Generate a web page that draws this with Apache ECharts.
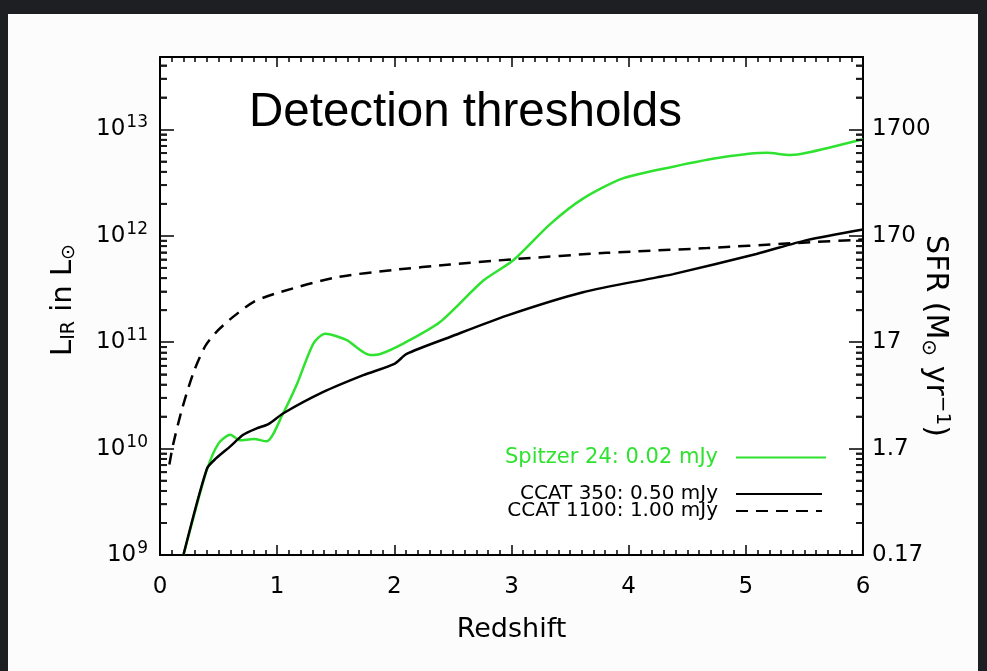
<!DOCTYPE html>
<html>
<head>
<meta charset="utf-8">
<script src="https://cdn.jsdelivr.net/npm/echarts@6/dist/echarts.min.js"></script>
<style>
  html, body { margin: 0; padding: 0; background: #1e1f22; }
  #frame { position: absolute; left: 8px; top: 14px; width: 970px; height: 657px; background: #fcfcfc; }
  #chart { position: absolute; left: 0; top: 0; width: 987px; height: 671px; }
</style>
</head>
<body>
<div id="frame"></div>
<div id="chart"></div>
<script>
// ---- data ----
const redshiftSpitzer = [0.2, 0.28, 0.4, 0.5, 0.6, 0.68, 0.8, 0.91, 1.05, 1.17, 1.31, 1.41, 1.59, 1.79, 1.88, 2.08, 2.39, 2.76, 3.015, 3.33, 3.61, 3.95, 4.38, 4.81, 5.18, 5.38, 5.52, 6.0];
const lirSpitzer = [1.0e9, 2.14e9, 6.31e9, 1.12e10, 1.35e10, 1.20e10, 1.23e10, 1.17e10, 2.14e10, 4.07e10, 9.77e10, 1.20e11, 1.05e11, 7.59e10, 7.76e10, 9.77e10, 1.55e11, 3.80e11, 5.89e11, 1.29e12, 2.24e12, 3.47e12, 4.47e12, 5.50e12, 6.03e12, 5.75e12, 6.03e12, 8.1e12];

const redshiftCcat350 = [0.2, 0.4, 0.48, 0.6, 0.71, 0.825, 0.925, 1.05, 1.39, 1.735, 2.005, 2.105, 2.475, 2.96, 3.61, 4.24, 4.38, 5.09, 5.52, 6.0];
const lirCcat350 = [1.0e9, 6.46e9, 8.13e9, 1.05e10, 1.35e10, 1.55e10, 1.70e10, 2.14e10, 3.39e10, 4.90e10, 6.31e10, 7.76e10, 1.12e11, 1.78e11, 2.95e11, 4.07e11, 4.37e11, 6.76e11, 9.12e11, 1.15e12];

const redshiftCcat1100 = [0.08, 0.11, 0.185, 0.284, 0.384, 0.484, 0.626, 0.80, 1.02, 1.5, 2.0, 2.475, 3.015, 3.81, 4.67, 5.38, 6.0];
const lirCcat1100 = [7.08e9, 1.07e10, 2.29e10, 5.13e10, 9.12e10, 1.26e11, 1.74e11, 2.40e11, 2.95e11, 4.07e11, 4.79e11, 5.37e11, 6.03e11, 6.92e11, 7.67e11, 8.51e11, 9.23e11];

const seriesNames = ['Spitzer 24: 0.02 mJy', 'CCAT 350: 0.50 mJy', 'CCAT 1100: 1.00 mJy'];
const xTickLabels = ['0', '1', '2', '3', '4', '5', '6'];
const lirExponents = ['9', '10', '11', '12', '13'];
const sfrTickLabels = ['0.17', '1.7', '17', '170', '1700'];
const minorMultipliers = [2, 3, 4, 5, 6, 7, 8, 9];

// ---- layout / style ----
const X_MIN = 0, X_MAX = 6;
const Y_MIN = 1e9, Y_MAX = 4.8e13;
const MINOR_TICK_DX = 0.06;           // minor tick length expressed in redshift units (~7 px)
const GREEN = '#2fe22f';
const FONT = 'DejaVu Sans';

function zip(xs, ys) { return xs.map((x, i) => [x, ys[i]]); }
function expIndex(v) {
  const l = Math.log10(v), e = Math.round(l);
  if (Math.abs(l - e) > 1e-6) return -1;
  return e - 9;
}

// log-distributed minor tick values (2..9 x each decade) for the vertical axes
const minorVals = [];
for (let d = 9; d <= 13; d++) {
  minorMultipliers.forEach(m => {
    const v = m * Math.pow(10, d);
    if (v < Y_MAX) minorVals.push(v);
  });
}
const minorTickLines = [];
minorVals.forEach(v => {
  minorTickLines.push([{ coord: [X_MIN, v] }, { coord: [X_MIN + MINOR_TICK_DX, v] }]);
  minorTickLines.push([{ coord: [X_MAX - MINOR_TICK_DX, v] }, { coord: [X_MAX, v] }]);
});

const chart = echarts.init(document.getElementById('chart'), null, { renderer: 'canvas' });

const axisCommon = {
  axisLine: { show: true, onZero: false, lineStyle: { color: '#000', width: 2 } },
  splitLine: { show: false }
};
const noSymbolLegendItem = { opacity: 0, borderWidth: 0 };

const option = {
  backgroundColor: 'transparent',
  animation: false,
  title: {
    text: 'Detection thresholds',
    left: 244, top: 84,
    textStyle: { fontFamily: 'Liberation Sans', fontSize: 47.5, fontWeight: 'normal', color: '#000' }
  },
  grid: { left: 160, right: 124, top: 57, bottom: 116, containLabel: false, backgroundColor: '#fff', show: true, borderWidth: 0 },
  legend: [
    {
      data: [{ name: seriesNames[0], textStyle: { color: GREEN } }],
      orient: 'vertical', align: 'right', padding: 0,
      right: 160, top: 447,
      itemWidth: 90, itemHeight: 14, itemGap: 0,
      itemStyle: noSymbolLegendItem,
      textStyle: { fontFamily: FONT, fontSize: 21, color: GREEN, padding: [0, 13, 0, 0] },
      selectedMode: false
    },
    {
      data: [seriesNames[1], seriesNames[2]],
      orient: 'vertical', align: 'right', padding: 0,
      right: 164, top: 484,
      itemWidth: 86, itemHeight: 14, itemGap: -3,
      itemStyle: noSymbolLegendItem,
      textStyle: { fontFamily: FONT, fontSize: 20, color: '#000', padding: [0, 13, 0, 0] },
      selectedMode: false
    }
  ],
  xAxis: [
    Object.assign({}, axisCommon, {
      type: 'value', position: 'bottom', min: X_MIN, max: X_MAX, interval: 1,
      name: 'Redshift', nameLocation: 'middle', nameGap: 61,
      nameTextStyle: { fontFamily: FONT, fontSize: 27, color: '#000' },
      axisTick: { show: true, inside: true, length: 10, lineStyle: { color: '#000', width: 1.5 } },
      minorTick: { show: true, splitNumber: 10, length: 5, lineStyle: { color: '#000', width: 1.5 } },
      axisLabel: { margin: 21, fontFamily: FONT, fontSize: 23, color: '#000',
        formatter: v => xTickLabels[Math.round(v)] }
    }),
    Object.assign({}, axisCommon, {
      type: 'value', position: 'top', min: X_MIN, max: X_MAX, interval: 1,
      axisTick: { show: true, inside: true, length: 10, lineStyle: { color: '#000', width: 1.5 } },
      minorTick: { show: true, splitNumber: 10, length: 5, lineStyle: { color: '#000', width: 1.5 } },
      axisLabel: { show: false }
    })
  ],
  yAxis: [
    Object.assign({}, axisCommon, {
      type: 'log', logBase: 10, position: 'left', min: Y_MIN, max: Y_MAX,
      name: 'L{sub|IR} in L{sub|\u2299}', nameLocation: 'middle', nameGap: 81, nameRotate: 90,
      nameTextStyle: { fontFamily: FONT, fontSize: 29, color: '#000', padding: [0, 0, 0, 12],
        rich: { sub: { fontFamily: FONT, fontSize: 19, color: '#000', padding: [12, 0, 0, 0] } } },
      axisTick: { show: true, inside: true, length: 14, lineStyle: { color: '#000', width: 1.5 } },
      axisLabel: { margin: 12, color: '#000',
        formatter: v => { const i = expIndex(v); return i < 0 ? '' : '{b|10}{s|' + lirExponents[i] + '}'; },
        rich: {
          b: { fontFamily: FONT, fontSize: 23, color: '#000' },
          s: { fontFamily: FONT, fontSize: 17, color: '#000', padding: [0, 0, 13, 1] }
        } }
    }),
    Object.assign({}, axisCommon, {
      type: 'log', logBase: 10, position: 'right', min: Y_MIN, max: Y_MAX,
      name: 'SFR (M{sub|\u2299} yr{sup|\u22121})', nameLocation: 'middle', nameGap: 54, nameRotate: -90,
      nameMoveOverlap: false,
      nameTextStyle: { fontFamily: FONT, fontSize: 30, color: '#000', padding: [0, 0, 0, 60],
        rich: {
          sub: { fontFamily: FONT, fontSize: 20, color: '#000', padding: [12, 0, 0, 0] },
          sup: { fontFamily: FONT, fontSize: 20, color: '#000', padding: [0, 0, 15, 0] }
        } },
      axisTick: { show: true, inside: true, length: 14, lineStyle: { color: '#000', width: 1.5 } },
      axisLabel: { margin: 9, fontFamily: FONT, fontSize: 23, color: '#000',
        formatter: v => { const i = expIndex(v); return i < 0 ? '' : sfrTickLabels[i]; } }
    })
  ],
  series: [
    {
      name: seriesNames[0], type: 'line', xAxisIndex: 0, yAxisIndex: 0,
      data: zip(redshiftSpitzer, lirSpitzer),
      symbol: 'none', smooth: 0.25,
      lineStyle: { color: GREEN, width: 2.5 }, itemStyle: { color: GREEN }, z: 2
    },
    {
      name: seriesNames[1], type: 'line', xAxisIndex: 0, yAxisIndex: 0,
      data: zip(redshiftCcat350, lirCcat350),
      symbol: 'none', smooth: 0.25,
      lineStyle: { color: '#000', width: 2.5 }, itemStyle: { color: '#000' }, z: 3,
      markLine: {
        silent: true, symbol: 'none', animation: false,
        label: { show: false },
        lineStyle: { color: '#111', width: 1.6, type: 'solid' },
        emphasis: { lineStyle: { color: '#111', width: 1.6 } },
        data: minorTickLines
      }
    },
    {
      name: seriesNames[2], type: 'line', xAxisIndex: 0, yAxisIndex: 0,
      data: zip(redshiftCcat1100, lirCcat1100),
      symbol: 'none', smooth: 0.25,
      lineStyle: { color: '#000', width: 2.5, type: [12, 8] }, itemStyle: { color: '#000' }, z: 3
    },
    {
      name: 'minorTicksLeft', type: 'scatter', xAxisIndex: 0, yAxisIndex: 0, clip: false, z: 6,
      data: minorVals.map(v => [X_MIN, v]),
      symbol: 'rect', symbolSize: [7, 2], symbolOffset: [3.5, 0],
      itemStyle: { color: '#111' }
    },
    {
      name: 'minorTicksRight', type: 'scatter', xAxisIndex: 0, yAxisIndex: 0, clip: false, z: 6,
      data: minorVals.map(v => [X_MAX, v]),
      symbol: 'rect', symbolSize: [7, 2], symbolOffset: [-3.5, 0],
      itemStyle: { color: '#111' }
    }
  ]
};
chart.setOption(option);
</script>
</body>
</html>
